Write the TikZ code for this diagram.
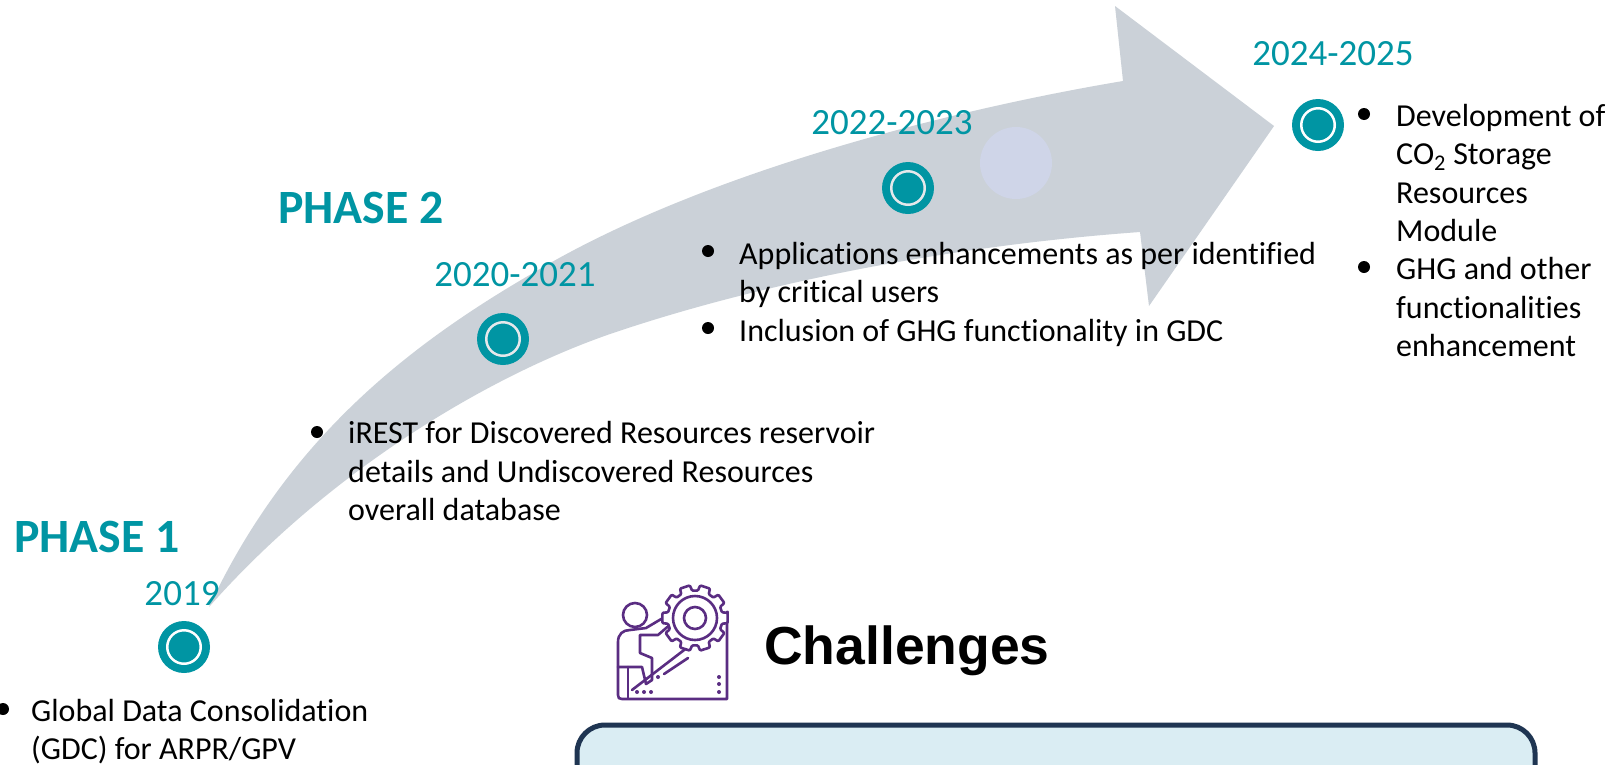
\documentclass[tikz,border=0pt]{standalone}
\usepackage{fontspec}
\setmainfont[RawFeature={-liga}]{Carlito}
\newfontfamily\headfont{Liberation Sans}
\definecolor{teal1}{HTML}{0095A3}
\definecolor{arrowgrey}{HTML}{CBD1D8}
\definecolor{lav}{HTML}{CFD5E8}
\definecolor{navy}{HTML}{1F3552}
\definecolor{panel}{HTML}{DAEDF3}
\definecolor{icon}{HTML}{5A2D82}
\tikzset{
  x=1pt,y=-1pt,
  year/.style={text=teal1,font=\fontsize{37}{42}\selectfont,anchor=base,inner sep=0pt},
  phase/.style={text=teal1,font=\fontsize{47.8}{54}\selectfont\bfseries,anchor=base west,inner sep=0pt},
  body/.style={font=\fontsize{32}{38.4}\selectfont,anchor=base west,inner sep=0pt,align=left},
  bullet/.style={circle,fill=black,inner sep=0pt,minimum size=12pt},
  iconline/.style={draw=icon,line width=2.6pt,line join=round,line cap=round}
}
\newcommand{\marker}[3]{%
  \node[circle,fill=teal1,minimum size=52pt,inner sep=0pt] (#1) at (#2,#3) {};
  \node[circle,draw=#1ring,line width=2.5pt,minimum size=33.5pt,inner sep=0pt] at (#1) {};
}
\colorlet{m1ring}{white}\colorlet{m2ring}{arrowgrey!50!white}\colorlet{m3ring}{arrowgrey!50!white}\colorlet{m4ring}{white}
\begin{document}
\begin{tikzpicture}
\useasboundingbox (0,0) rectangle (1613,764);
\fill[white] (0,0) rectangle (1613,764);
\fill[arrowgrey] (209,607) .. controls (285,445) and (400,350) .. (533,273)
  .. controls (700,173) and (950,110) .. (1123,81)
  -- (1115,6) -- (1274,126) -- (1149,306) -- (1140,232)
  .. controls (960,245) and (770,280) .. (613,333)
  .. controls (490,375) and (330,470) .. cycle;
\fill[lav] (1016,163) circle (36);
\marker{m1}{184}{647}
\marker{m2}{503}{339}
\marker{m3}{908}{188}
\marker{m4}{1318}{125}
\node[year] (y1) at (182,605) {2019};
\node[year] (y2) at (515,286) {2020-2021};
\node[year] (y3) at (892,134) {2022-2023};
\node[year] (y4) at (1333,65) {2024-2025};
\node[phase] (p1) at (14,552) {PHASE 1};
\node[phase] (p2) at (278,223) {PHASE 2};
\node[bullet] (b1) at (3,709) {};
\node[body] (t1) at (31,759.5) {Global Data Consolidation\\(GDC) for ARPR/GPV};
\node[bullet] (b2) at (317,432) {};
\node[body] (t2) at (348,520.5) {iREST for Discovered Resources reservoir\\details and Undiscovered Resources\\overall database};
\node[bullet] (b3) at (708,251) {};
\node[body] (t3) at (739,302.5) {Applications enhancements as per identified\\by critical users};
\node[bullet] (b4) at (708,328) {};
\node[body] (t4) at (739,341) {Inclusion of GHG functionality in GDC};
\node[bullet] (b5) at (1364,114) {};
\node[body] (t5) at (1396,241.5) {Development of\\CO\textsubscript{2} Storage\\Resources\\Module};
\node[bullet] (b6) at (1364,267) {};
\node[body] (t6) at (1396,356.5) {GHG and other\\functionalities\\enhancement};
\node[font=\headfont\bfseries\fontsize{53.5}{60}\selectfont,anchor=base west,inner sep=0pt] (ch) at (764,664) {Challenges};
\draw[navy,line width=5pt,fill=panel,rounded corners=28pt] (577,725) rectangle (1535,810);
% icon
\begin{scope}[iconline]
\draw (635,615) circle (12);
\draw (727,612) -- (727,699) -- (622,699) .. controls (619,699) and (618,698) .. (618,695) -- (618,642) .. controls (618,634) and (623,630) .. (630,630) -- (646,628) -- (668,615);
\draw (672,623) -- (658,635) -- (640,635) -- (640,653) -- (652,658) -- (652,680) -- (646,684) -- (642,667) -- (618,667);
\draw (628,667) -- (628,698);
\draw (632,690) -- (688,647);
\draw (664,674) -- (688,658);
\begin{scope}[shift={(695,618)}]
\filldraw[fill=white,rounded corners=1pt] (-9:33) \foreach \a in {0,36,...,324}{ -- ({\a-9}:33) -- ({\a+9}:33) -- ({\a+12}:27.5) -- ({\a+24}:27.5) } -- cycle;
\draw (0,0) circle (22);
\draw (0,0) circle (11);
\end{scope}
\end{scope}
\foreach \p in {(637,692),(644,692),(651,692),(658,677),(719,677),(719,684),(719,692)}
  \fill[icon] \p circle (2);
\end{tikzpicture}
\end{document}
